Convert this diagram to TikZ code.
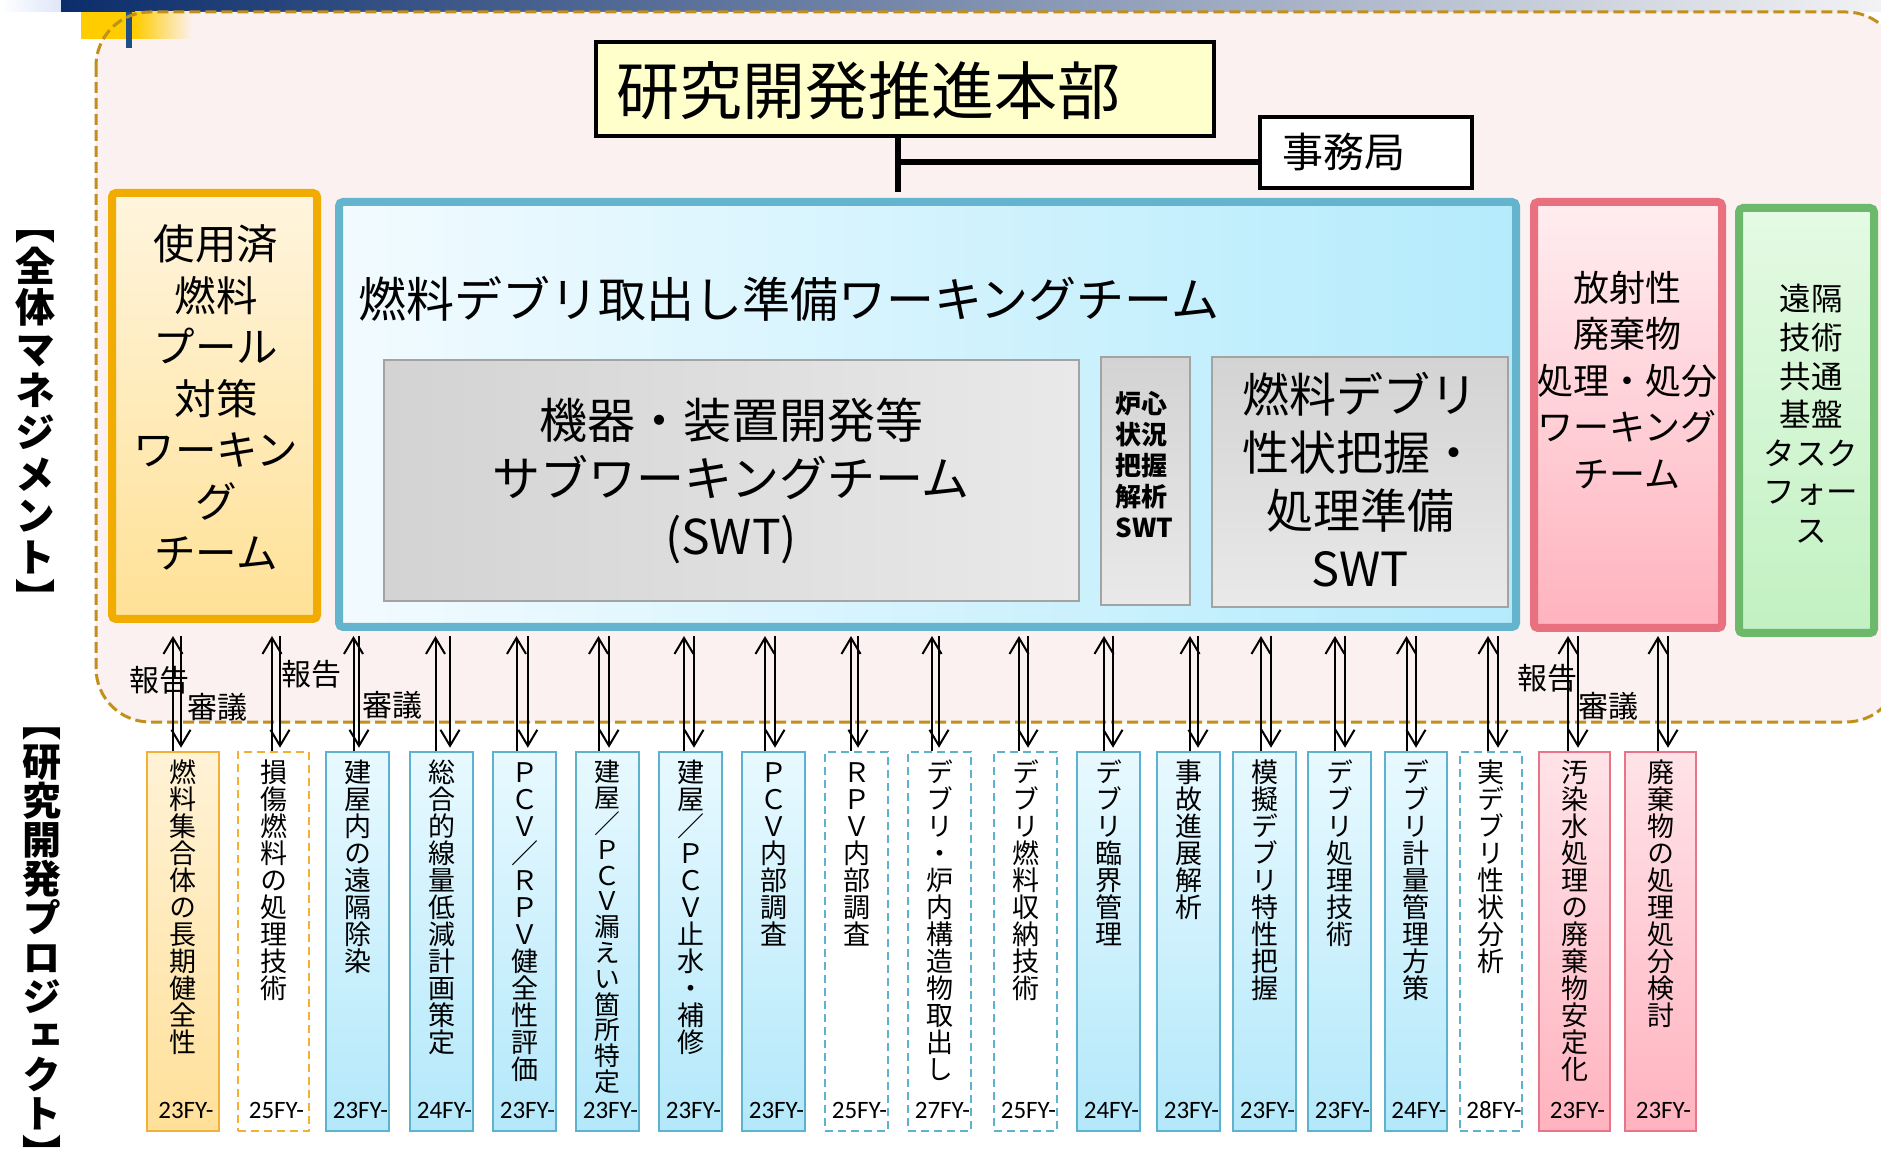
\documentclass[tikz,border=0pt]{standalone}
\usepackage{fontspec}
\setmainfont{Noto Sans CJK JP}
\newfontfamily\jp{Noto Sans CJK JP}
\newfontfamily\vjp[RawFeature=+vert]{Noto Sans CJK JP}
\newfontfamily\fyfont{Carlito}
\usetikzlibrary{arrows.meta,fit,calc}

\definecolor{navyA}{HTML}{0B2D6B}
\definecolor{navyM}{HTML}{8A90A6}
\definecolor{navyR}{HTML}{F2F2F4}
\definecolor{stripL}{HTML}{DFE6FA}
\definecolor{navyS}{HTML}{1F4E86}
\definecolor{pinkbg}{HTML}{FCF1F1}
\definecolor{decoY}{HTML}{FFCC00}
\definecolor{dashcol}{HTML}{C0901A}
\definecolor{titlefill}{HTML}{FFFFCC}
\definecolor{ybord}{HTML}{F0AC00}
\definecolor{yfillA}{HTML}{FFF5DE}
\definecolor{yfillB}{HTML}{FFE196}
\definecolor{bbord}{HTML}{63B4CC}
\definecolor{bfillA}{HTML}{F2FBFF}
\definecolor{bfillB}{HTML}{B4EBFC}
\definecolor{rbord}{HTML}{E8707F}
\definecolor{rfillA}{HTML}{FFEDF0}
\definecolor{rfillB}{HTML}{FFB3BE}
\definecolor{gbord}{HTML}{6CB96C}
\definecolor{gfillA}{HTML}{E4FAE4}
\definecolor{gfillB}{HTML}{C2F1C2}
\definecolor{graybord}{HTML}{A3A3A3}
\definecolor{grayA}{HTML}{D3D3D3}
\definecolor{grayB}{HTML}{E9E9E9}
\definecolor{sbb}{HTML}{5DB2CD}
\definecolor{sbA}{HTML}{E8F9FF}
\definecolor{sbB}{HTML}{B3E8FA}
\definecolor{sob}{HTML}{F2B134}
\definecolor{soA}{HTML}{FFF2D6}
\definecolor{soB}{HTML}{FFE09A}
\definecolor{spb}{HTML}{E97488}
\definecolor{spA}{HTML}{FFE3E8}
\definecolor{spB}{HTML}{FFB3BF}

\newlength\vpitch
\newcommand\vstack[2]{\setlength\vpitch{#1}\vbox{\offinterlineskip\expandafter\vstackloop#2\relax}}
\def\vstackloop#1{\ifx\relax#1\else\vbox to\vpitch{\vss\hbox to 1em{\vrule height .88em depth .12em width 0pt\relax#1\hss}\vss}\expandafter\vstackloop\fi}
\def\SL{{\jp ／}}

\begin{document}
\begin{tikzpicture}[x=0.5pt,y=-0.5pt,
  bigbox/.style={draw, line width=4pt, rounded corners=2pt, inner sep=0pt},
  ybig/.style={bigbox, draw=ybord, top color=yfillA, bottom color=yfillB},
  bbig/.style={bigbox, draw=bbord, left color=bfillA, right color=bfillB},
  rbig/.style={bigbox, draw=rbord, top color=rfillA, bottom color=rfillB},
  gbig/.style={bigbox, draw=gbord, top color=gfillA, bottom color=gfillB},
  graybox/.style={draw=graybord, line width=1.25pt, inner sep=0pt},
  sbase/.style={line width=1.25pt, inner sep=0pt},
  bluebox/.style={sbase, draw=sbb, top color=sbA, bottom color=sbB},
  bluedash/.style={sbase, draw=sbb, fill=white, dash pattern=on 4pt off 2.5pt},
  orangebox/.style={sbase, draw=sob, top color=soA, bottom color=soB},
  orangedash/.style={sbase, draw=sob, fill=white, dash pattern=on 4pt off 2.5pt},
  pinkbox/.style={sbase, draw=spb, top color=spA, bottom color=spB},
  arr/.style={-{Straight Barb[length=8pt,width=9.5pt]}, line width=1pt},
  lbl/.style={font=\fontsize{15pt}{18pt}\selectfont, inner sep=0pt}
]
\useasboundingbox (0,0) rectangle (1881,1176);
\fill[white] (0,0) rectangle (1881,1176);

% top decoration
\shade[left color=white, right color=stripL] (0,0) rectangle (61,12);
\shade[left color=navyA, middle color=navyM, right color=navyR] (61,0) rectangle (1881,12);

% management region
\fill[pinkbg, rounded corners=27pt] (96,12) rectangle (1900,722);
\fill[decoY] (81,12) rectangle (135,39);
\shade[left color=decoY, right color=pinkbg] (135,12) rectangle (192,39);
\fill[navyS] (126,12) rectangle (132,48);
\draw[dashcol, line width=1.5pt, dash pattern=on 5.5pt off 2.5pt, rounded corners=27pt] (96,12) rectangle (1900,722);

% headquarters
\node[draw=black, line width=2pt, fill=titlefill, fit={(596,42) (1214,136)}, inner sep=0pt] (hq) {};
\node[font=\fontsize{31.5pt}{36pt}\selectfont, anchor=west, inner sep=0pt] (hqT) at (616,91) {研究開発推進本部};
\node[draw=black, line width=1.75pt, fill=white, fit={(1260,117) (1472,188)}, inner sep=0pt] (sec) {};
\node[font=\fontsize{20.5pt}{24pt}\selectfont, anchor=west, inner sep=0pt] (secT) at (1282,152) {事務局};
\coordinate (jct) at (898,192);
\coordinate (hl) at (898,162);
\draw[line width=3pt] (hq.south -| jct) -- (jct);
\draw[line width=3pt] (hl) -- (hl -| sec.west);

% working teams
\node[ybig, fit={(112,193) (317,619)}] (spf) {};
\node[bbig, fit={(339,202) (1516,627)}] (debris) {};
\node[rbig, fit={(1534,202) (1722,628)}] (waste) {};
\node[gbig, fit={(1739,208) (1874,633)}] (remote) {};
\node[graybox, left color=grayA, right color=grayB, fit={(384,360) (1079,601)}] (equip) {};
\node[graybox, top color=grayA, bottom color=grayB, fit={(1101,357) (1190,605)}] (core) {};
\node[graybox, top color=grayA, bottom color=grayB, fit={(1212,357) (1508,607)}] (prop) {};

\node[font=\fontsize{20.75pt}{25.75pt}\selectfont, align=center] (spfT) at (216,397.5) {使用済\\燃料\\プール\\対策\\ワーキン\\グ\\チーム};
\node[font=\fontsize{24pt}{29pt}\selectfont, anchor=west, inner sep=0pt] (debrisT) at (358,299) {燃料デブリ取出し準備ワーキングチーム};
\node[font=\fontsize{24pt}{29pt}\selectfont, align=center] (equipT) at (731,481) {機器・装置開発等\\サブワーキングチーム\\(SWT)};
\node[font=\bfseries\fontsize{13pt}{15.5pt}\selectfont, align=left, anchor=west, inner sep=0pt] (coreT) at (1115,465) {炉心\\状況\\把握\\解析\\SWT};
\node[font=\fontsize{23.5pt}{29pt}\selectfont, align=center] (propT) at (1360,480) {燃料デブリ\\性状把握・\\処理準備\\SWT};
\node[font=\fontsize{18pt}{23.25pt}\selectfont, align=center] (wasteT) at (1627,380) {放射性\\廃棄物\\処理・処分\\ワーキング\\チーム};
\node[font=\fontsize{15.75pt}{19.3pt}\selectfont, align=center] (remoteT) at (1811,414) {遠隔\\技術\\共通\\基盤\\タスク\\フォー\\ス};

% side labels
\node[font=\vjp\bfseries\fontsize{20pt}{20pt}\selectfont, anchor=north, inner sep=0pt] (mgmt) at (36,203) {\vstack{20.8pt}{【全体マネジメント】}};
\node[font=\vjp\bfseries\fontsize{19.5pt}{19.5pt}\selectfont, anchor=north, inner sep=0pt] (proj) at (42,702) {\vstack{19.6pt}{【研究開発プロジェクト】}};

% projects
\coordinate (atop) at (0,636);
\foreach \i/\xa/\xb/\st/\txt/\yr/\du/\dd/\fsz in {
1/147/219/orangebox/燃料集合体の長期健全性/23/-10/-2/13.5,
2/238/309/orangedash/損傷燃料の処理技術/25/-1.5/6.5/13.5,
3/326/389/bluebox/建屋内の遠隔除染/23/-4/1.5/13.5,
4/410/473/bluebox/総合的線量低減計画策定/24/-6/8.5/13.5,
5/493/556/bluebox/ＰＣＶ\SL ＲＰＶ健全性評価/23/-8/3.3/13.5,
6/576/639/bluebox/建屋\SL ＰＣＶ漏えい箇所特定/23/-9/1.5/12.9,
7/659/722/bluebox/建屋\SL ＰＣＶ止水・補修/23/-6.5/3.5/13.5,
8/742/805/bluebox/ＰＣＶ内部調査/23/-8.5/1.5/13.5,
9/825/888/bluedash/ＲＰＶ内部調査/25/-5.5/1.5/13.5,
10/908/971/bluedash/デブリ・炉内構造物取出し/27/-7.5/-0.5/13.5,
11/994/1057/bluedash/デブリ燃料収納技術/25/-6.5/2.5/13.5,
12/1077/1140/bluebox/デブリ臨界管理/24/-4.5/4.5/13.5,
13/1157/1220/bluebox/事故進展解析/23/1.5/9.5/13.5,
14/1233/1296/bluebox/模擬デブリ特性把握/23/-3.5/6.5/13.5,
15/1308/1371/bluebox/デブリ処理技術/23/-4.5/5.5/13.5,
16/1385/1447/bluebox/デブリ計量管理方策/24/-9.5/0/13.5,
17/1460/1522/bluedash/実デブリ性状分析/28/-3/7/13.5,
18/1539/1610/pinkbox/汚染水処理の廃棄物安定化/23/-6.5/3.5/13.5,
19/1625/1696/pinkbox/廃棄物の処理処分検討/23/-2.5/7.5/13.5}{
  \tikzset{curbox/.style/.expand once=\st}
  \node[curbox, fit={(\xa,752) (\xb,1131)}] (b\i) {};
  \node[font=\vjp\fontsize{\fsz pt}{\fsz pt}\selectfont, anchor=north, inner sep=0pt] (t\i) at ($(b\i.north)+(0,8)$) {\vstack{\fsz pt}{\txt}};
  \node[font=\fyfont\fontsize{12.5pt}{14pt}\selectfont, anchor=base, inner sep=0pt] (fy\i) at ($(b\i.north)+(3,368)$) {\yr FY-};
  \coordinate (u\i) at ($(b\i.north)+(\du,0)$);
  \coordinate (d\i) at ($(b\i.north)+(\dd,-3)$);
  \draw[arr] (u\i) -- (u\i |- atop);
  \draw[arr] (d\i |- atop) -- (d\i);
}

% report / deliberation labels
\node[lbl] (rep1) at (159,680) {報告};
\node[lbl] (del1) at (217,707) {審議};
\node[lbl] (rep2) at (311,674) {報告};
\node[lbl] (del2) at (392,705) {審議};
\node[lbl] (rep3) at (1547,678) {報告};
\node[lbl] (del3) at (1608,706) {審議};
\end{tikzpicture}
\end{document}
